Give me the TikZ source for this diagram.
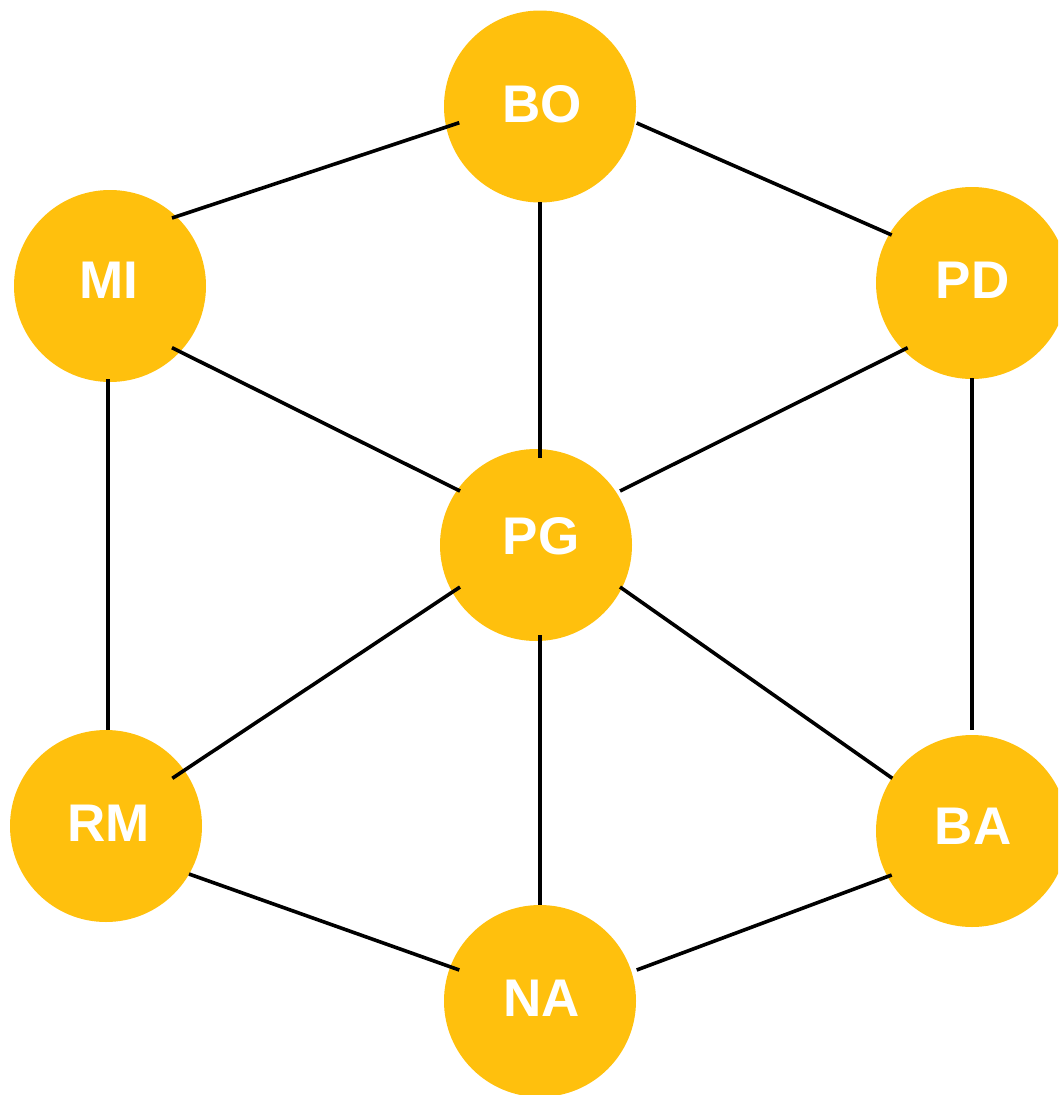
\documentclass[tikz,border=0pt]{standalone}
\usepackage{fontspec}
\setmainfont{Liberation Sans}
\definecolor{gold}{HTML}{FFC00D}
\begin{document}
\begin{tikzpicture}[x=1pt,y=-1pt,
  city/.style={circle,fill=gold,draw=none,minimum size=192pt,inner sep=0pt},
  tag/.style={text=white,inner sep=0pt,font=\fontsize{53}{60}\selectfont\bfseries},
  link/.style={draw=black,line width=3.6pt}]
\useasboundingbox (0,0) rectangle (1058,1095);
\clip (0,0) rectangle (1058,1095);

% circles
\node[city] (BO) at (540,106.5) {};
\node[city] (MI) at (110,286) {};
\node[city] (PD) at (972,283) {};
\node[city] (PG) at (536,545) {};
\node[city] (RM) at (106,826) {};
\node[city] (BA) at (972,831) {};
\node[city] (NA) at (540,1001) {};

% labels
\node[tag] (BOl) at (542,104) {BO};
\node[tag] (MIl) at (109,280) {MI};
\node[tag] (PDl) at (972.5,280) {PD};
\node[tag] (PGl) at (541,536) {PG};
\node[tag] (RMl) at (108.7,823) {RM};
\node[tag] (BAl) at (973,826.5) {BA};
\node[tag] (NAl) at (541.5,998) {NA};

% connections
\draw[link] ([shift={(62,-68)}]MI.center) -- ([shift={(-80.7,16.2)}]BO.center);
\draw[link] ([shift={(96.7,16.5)}]BO.center) -- ([shift={(-80.3,-48)}]PD.center);
\draw[link] ([shift={(0,95.5)}]BO.center) -- ([shift={(4,-87)}]PG.center);
\draw[link] ([shift={(62,61.7)}]MI.center) -- ([shift={(-76,-54)}]PG.center);
\draw[link] ([shift={(-64.3,64.7)}]PD.center) -- ([shift={(84,-54)}]PG.center);
\draw[link] ([shift={(-2.3,93)}]MI.center) -- ([shift={(1.7,-96)}]RM.center);
\draw[link] ([shift={(-0.3,95)}]PD.center) -- ([shift={(-0.3,-101)}]BA.center);
\draw[link] ([shift={(-76,42)}]PG.center) -- ([shift={(66.3,-47.7)}]RM.center);
\draw[link] ([shift={(84,42)}]PG.center) -- ([shift={(-79.7,-52.7)}]BA.center);
\draw[link] ([shift={(4,90)}]PG.center) -- ([shift={(0,-96)}]NA.center);
\draw[link] ([shift={(83,48)}]RM.center) -- ([shift={(-80.7,-31)}]NA.center);
\draw[link] ([shift={(-80.3,44)}]BA.center) -- ([shift={(96.7,-31)}]NA.center);
\end{tikzpicture}
\end{document}
